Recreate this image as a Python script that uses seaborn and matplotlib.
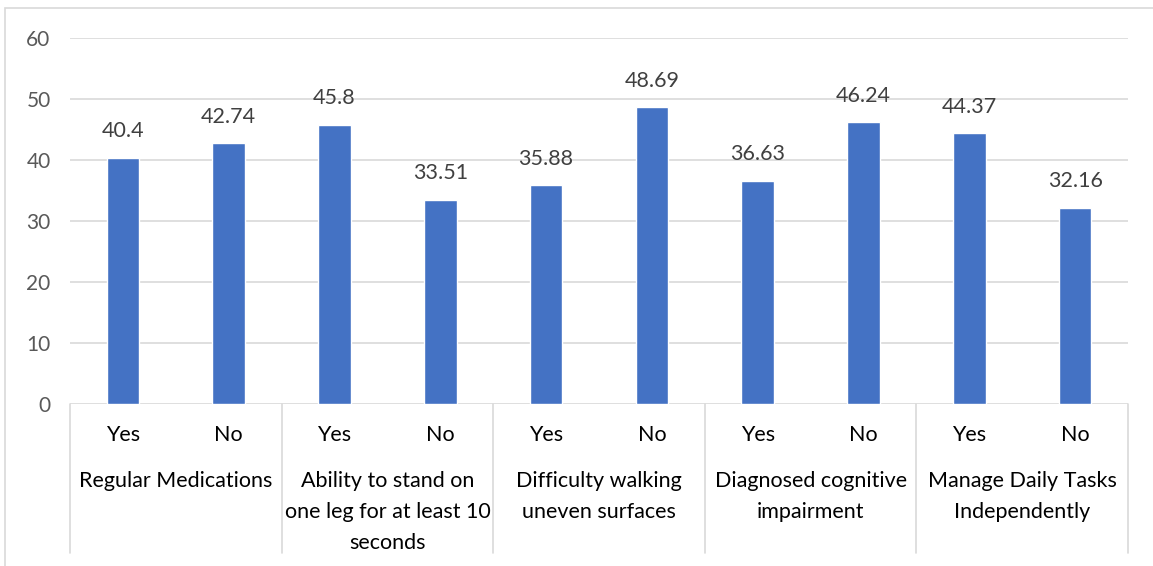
import matplotlib
matplotlib.use("Agg")
import matplotlib.pyplot as plt
import matplotlib.transforms as mtransforms
import seaborn as sns
import pandas as pd

# Mean scores per answer group
groups = [
    "Regular Medications",
    "Ability to stand on\none leg for at least 10\nseconds",
    "Difficulty walking\nuneven surfaces",
    "Diagnosed cognitive\nimpairment",
    "Manage Daily Tasks\nIndependently",
]
answers = ["Yes", "No"]
values = [40.4, 42.74, 45.8, 33.51, 35.88, 48.69, 36.63, 46.24, 44.37, 32.16]
value_labels = ["40.4", "42.74", "45.8", "33.51", "35.88", "48.69", "36.63", "46.24", "44.37", "32.16"]
y_ticks = [0, 10, 20, 30, 40, 50, 60]

rows = []
for gi, g in enumerate(groups):
    for ai, a in enumerate(answers):
        rows.append({"slot": f"{gi}-{a}", "group": g, "answer": a, "value": values[gi * 2 + ai]})
df = pd.DataFrame(rows)

sns.set_theme(style="white")
plt.rcParams["font.family"] = ["Lato", "DejaVu Sans"]

W, H = 1153, 566
fig = plt.figure(figsize=(W / 100, H / 100), dpi=100)
left, right, top, bottom = 70, 1128, 38, 404
ax = fig.add_axes([left / W, 1 - bottom / H, (right - left) / W, (bottom - top) / H])

# outer chart frame
fig.add_artist(plt.Rectangle((5 / W, -0.1), 1.2, 1 - 8 / H + 0.1, transform=fig.transFigure,
                             fill=False, edgecolor="#D9D9D9", linewidth=1.2))

sns.barplot(data=df, x="slot", y="value", order=df["slot"].tolist(), color="#4472C4",
            saturation=1, width=0.31, ax=ax, zorder=3)

ax.set_xlim(-0.5, len(values) - 0.5)
ax.set_ylim(0, 60)
ax.set_yticks(y_ticks)
ax.set_yticklabels([str(t) for t in y_ticks], color="#595959", fontsize=15)
ax.tick_params(axis="y", length=0, pad=14)
ax.set_xticks([])
ax.set_xlabel("")
ax.set_ylabel("")
for s in ax.spines.values():
    s.set_visible(False)
for t in y_ticks:
    ax.axhline(t, color="#D9D9D9", linewidth=1.2, zorder=1)

# value labels above bars
for i, (v, lab) in enumerate(zip(df["value"], value_labels)):
    ax.annotate(lab, (i, v), xytext=(0, 19), textcoords="offset points",
                ha="center", va="center", fontsize=15.5, color="#404040")

# two-level category axis
trans = mtransforms.blended_transform_factory(ax.transData, ax.transAxes)
px = 1 / (bottom - top)
for b in [-0.5, 1.5, 3.5, 5.5, 7.5, 9.5]:
    ax.plot([b, b], [0, -(553 - bottom) * px], transform=trans, color="#D9D9D9",
            linewidth=1.2, clip_on=False)
for i, a in enumerate(df["answer"]):
    ax.text(i, -(435 - bottom) * px, a, transform=trans, ha="center", va="center",
            fontsize=15.5, color="#000000")
for gi, g in enumerate(groups):
    ax.text(gi * 2 + 0.5, -(471 - bottom) * px, g, transform=trans, ha="center", va="top",
            fontsize=15.5, color="#000000", linespacing=1.7)

fig.savefig("out.png", dpi=100)
